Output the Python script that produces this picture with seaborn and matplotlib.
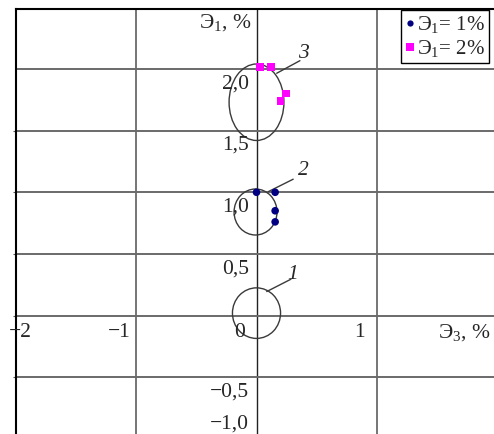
import numpy as np
import pandas as pd
import matplotlib
matplotlib.use("Agg")
import matplotlib.pyplot as plt
from matplotlib.patches import Ellipse
import seaborn as sns

# ---- data ----
series_names = ["Э$_1$= 1%", "Э$_1$= 2%"]
s1_x = [0.0, 0.155, 0.155, 0.155]
s1_y = [1.0, 1.0, 0.85, 0.76]
s2_x = [0.03, 0.12, 0.247, 0.198]
s2_y = [2.014, 2.014, 1.80, 1.74]

ell_labels = ["1", "2", "3"]
ell_cx = [0.0, -0.008, 0.0]
ell_cy = [0.02, 0.84, 1.73]
ell_w = [0.40, 0.357, 0.456]
ell_h = [0.41, 0.373, 0.62]

xtick_vals = [-2, -1, 0, 1]
xtick_labels = ["\u22122", "\u22121", "0", "1"]
ytick_vals = [2.0, 1.5, 1.0, 0.5, -0.5, -1.0]
ytick_labels = ["2,0", "1,5", "1,0", "0,5", "\u22120,5", "\u22121,0"]

# ---- style ----
sns.set_style("white")
plt.rcParams["font.family"] = ["Liberation Serif", "DejaVu Serif"]
plt.rcParams["mathtext.fontset"] = "custom"
plt.rcParams["mathtext.rm"] = "Liberation Serif"
plt.rcParams["mathtext.it"] = "Liberation Serif:italic"
plt.rcParams["mathtext.default"] = "rm"

W, H = 494, 434
FS = 15.5
fig = plt.figure(figsize=(W / 100, H / 100), dpi=100)
ax = fig.add_axes([16 / W, 0, 1 - 16 / W, (H - 9) / H])
ax.set_xlim(-2.0, 1.975)
ax.set_ylim(-0.96, 2.486)

# grid
grid_c = "#6a6a6a"
for v in [-1, 1]:
    ax.axvline(v, color=grid_c, lw=1.3, zorder=1)
ax.axvline(0, color="#222222", lw=1.0, zorder=1)
for v in [-0.5, 0, 0.5, 1.0, 1.5, 2.0]:
    ax.axhline(v, color=grid_c, lw=1.4, zorder=1)

# spines
for s in ["right", "bottom"]:
    ax.spines[s].set_visible(False)
for s in ["top", "left"]:
    ax.spines[s].set_color("black")
    ax.spines[s].set_linewidth(1.5)

ax.set_xticks([])
ax.set_yticks([-0.5, 0, 0.5, 1.0, 1.5])
ax.set_yticklabels([])
ax.tick_params(axis="y", direction="out", length=2, width=0.8, color="#555555", left=True)

# ellipses
for cx, cy, w, h in zip(ell_cx, ell_cy, ell_w, ell_h):
    ax.add_patch(Ellipse((cx, cy), w, h, fill=False, edgecolor="#3a3a3a", lw=1.0, zorder=3))

# leader lines and numbers
leaders = [((0.085, 0.195), (0.286, 0.295), (0.30, 0.335)),
           ((0.098, 1.005), (0.305, 1.106), (0.39, 1.18)),
           ((0.168, 1.965), (0.361, 2.067), (0.39, 2.125))]
for lab, (p0, p1, pt) in zip(ell_labels, leaders):
    ax.plot([p0[0], p1[0]], [p0[1], p1[1]], color="#3a3a3a", lw=1.0, zorder=3)
    ax.text(pt[0], pt[1], lab, fontsize=FS, style="italic", ha="center", va="center", zorder=4)

# points
df = pd.DataFrame({
    "x": s1_x + s2_x,
    "y": s1_y + s2_y,
    "series": [series_names[0]] * len(s1_x) + [series_names[1]] * len(s2_x),
})
sns.scatterplot(data=df, x="x", y="y", hue="series", style="series",
                palette={series_names[0]: "#000080", series_names[1]: "#ff00ff"},
                markers={series_names[0]: "o", series_names[1]: "s"},
                s=30, linewidth=0, ax=ax, zorder=5)
ax.set_xlabel("")
ax.set_ylabel("")

# tick labels as text
for v, t in zip(ytick_vals, ytick_labels):
    ypos = v - 0.12 if v > -1 else v + 0.12
    ax.text(-0.06, ypos, t, fontsize=FS, ha="right", va="center", zorder=4)
for v, t in zip(xtick_vals, xtick_labels):
    xpos = v - 0.14 if v > -2 else v + 0.04
    ax.text(xpos, -0.14, t, fontsize=FS, ha="center", va="center", zorder=4)

# axis titles
ax.text(-0.04, 2.38, "Э$_1$, %", fontsize=FS, ha="right", va="center")
ax.text(1.506, -0.14, "Э$_3$, %", fontsize=FS, ha="left", va="center", clip_on=False)

# legend
handles, labels = ax.get_legend_handles_labels()
for h, ms in zip(handles, [4.5, 5.5]):
    try:
        h.set_markersize(ms)
    except Exception:
        pass
leg = ax.legend(handles, labels, loc="upper right",
                bbox_to_anchor=(489 / W, 1 - 10 / H), bbox_transform=fig.transFigure,
                fontsize=15, frameon=True, fancybox=False, framealpha=1,
                edgecolor="black", handlelength=0.4, handletextpad=0.15,
                borderpad=0.2, labelspacing=0.15, borderaxespad=0)
leg.get_frame().set_linewidth(1.0)

fig.savefig("out.png", dpi=100)
